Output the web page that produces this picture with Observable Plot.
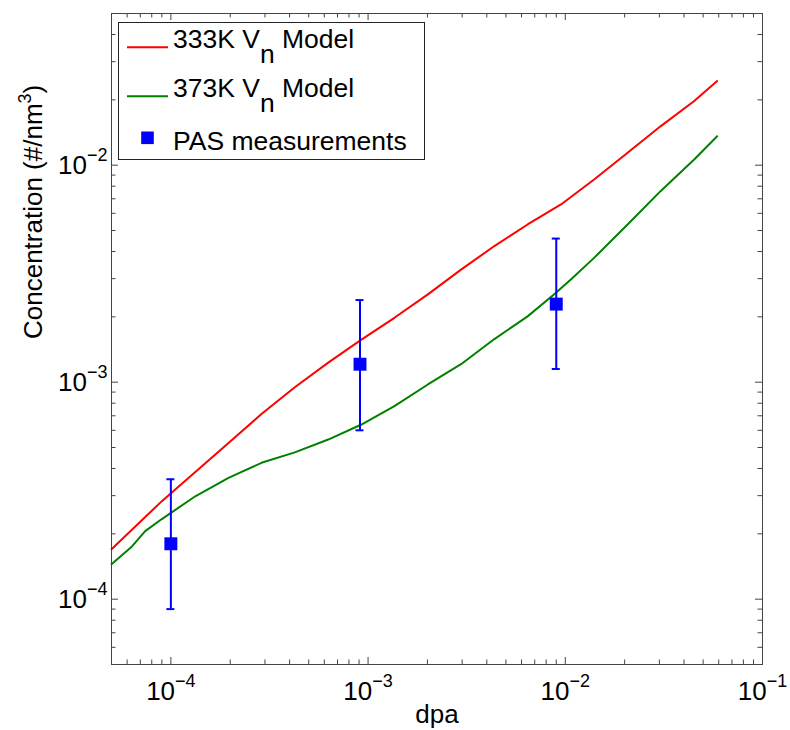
<!DOCTYPE html>
<html>
<head>
<meta charset="utf-8">
<script src="https://cdn.jsdelivr.net/npm/d3@7"></script>
<script src="https://cdn.jsdelivr.net/npm/@observablehq/plot@0.6"></script>
<style>
  body { margin: 0; background: #fff; }
  #chart { position: relative; width: 790px; height: 730px; }
</style>
</head>
<body>
<div id="chart"></div>
<script>
// ---------- data ----------
const model333Dpa  = [5e-5, 9.0e-5, 1.96e-4, 2.88e-4, 4.25e-4, 6.28e-4, 9.25e-4, 1.36e-3, 2.01e-3, 2.96e-3, 4.37e-3, 6.44e-3, 9.51e-3, 1.40e-2, 2.07e-2, 3.04e-2, 4.49e-2, 5.89e-2];
const model333Conc = [1.70e-4, 2.83e-4, 5.25e-4, 7.13e-4, 9.48e-4, 1.23e-3, 1.57e-3, 1.98e-3, 2.54e-3, 3.30e-3, 4.24e-3, 5.33e-3, 6.59e-3, 8.59e-3, 1.14e-2, 1.51e-2, 1.97e-2, 2.44e-2];

const model373Dpa  = [5e-5, 6.35e-5, 7.41e-5, 9.0e-5, 1.33e-4, 1.96e-4, 2.88e-4, 4.25e-4, 6.28e-4, 9.25e-4, 1.36e-3, 2.01e-3, 2.96e-3, 4.37e-3, 6.44e-3, 8.79e-3, 1.067e-2, 1.40e-2, 2.07e-2, 3.04e-2, 4.49e-2, 5.89e-2];
const model373Conc = [1.45e-4, 1.75e-4, 2.06e-4, 2.34e-4, 2.98e-4, 3.62e-4, 4.25e-4, 4.75e-4, 5.44e-4, 6.38e-4, 7.75e-4, 9.76e-4, 1.21e-3, 1.58e-3, 2.01e-3, 2.54e-3, 2.97e-3, 3.74e-3, 5.33e-3, 7.59e-3, 1.06e-2, 1.36e-2];

const pasDpa  = [1e-4, 9.1e-4, 9.0e-3];
const pasConc = [1.8e-4, 1.21e-3, 2.29e-3];
const pasLow  = [9.0e-5, 6.0e-4, 1.15e-3];
const pasHigh = [3.57e-4, 2.39e-3, 4.59e-3];

const xMajorTicks = [1e-4, 1e-3, 1e-2, 1e-1];
const xTickLabels = ["10^{−4}", "10^{−3}", "10^{−2}", "10^{−1}"];
const xMinorTicks = [6e-5, 7e-5, 8e-5, 9e-5,
  2e-4, 3e-4, 4e-4, 5e-4, 6e-4, 7e-4, 8e-4, 9e-4,
  2e-3, 3e-3, 4e-3, 5e-3, 6e-3, 7e-3, 8e-3, 9e-3,
  2e-2, 3e-2, 4e-2, 5e-2, 6e-2, 7e-2, 8e-2, 9e-2];

const yMajorTicks = [1e-4, 1e-3, 1e-2];
const yTickLabels = ["10^{−4}", "10^{−3}", "10^{−2}"];
const yMinorTicks = [6e-5, 7e-5, 8e-5, 9e-5,
  2e-4, 3e-4, 4e-4, 5e-4, 6e-4, 7e-4, 8e-4, 9e-4,
  2e-3, 3e-3, 4e-3, 5e-3, 6e-3, 7e-3, 8e-3, 9e-3,
  2e-2, 3e-2, 4e-2];

const xLabel = "dpa";
const yLabel = "Concentration (#/nm^{3})";
const seriesNames = ["333K V_{n} Model", "373K V_{n} Model", "PAS measurements"];
const seriesColors = ["#ff0000", "#008000", "#0000ff"];

// ---------- tables ----------
const red = model333Dpa.map((d, i) => ({dpa: d, conc: model333Conc[i]}));
const green = model373Dpa.map((d, i) => ({dpa: d, conc: model373Conc[i]}));
const pas = pasDpa.map((d, i) => ({dpa: d, conc: pasConc[i], low: pasLow[i], high: pasHigh[i]}));

// ---------- layout ----------
const W = 790, H = 730, mL = 111, mR = 28, mT = 13, mB = 66;
const innerW = W - mL - mR, innerH = H - mT - mB;
const axisColor = "#444";
const majorLen = 7, minorLen = 4.5;

const chart = Plot.plot({
  width: W, height: H,
  marginLeft: mL, marginRight: mR, marginTop: mT, marginBottom: mB,
  style: {fontFamily: "'Liberation Sans', Arial, Helvetica, sans-serif", background: "#fff", color: "#000", overflow: "visible"},
  x: {type: "log", domain: [5e-5, 1e-1], label: null},
  y: {type: "log", domain: [5e-5, 5e-2], label: null},
  marks: [
    Plot.line(red, {x: "dpa", y: "conc", stroke: seriesColors[0], strokeWidth: 2}),
    Plot.line(green, {x: "dpa", y: "conc", stroke: seriesColors[1], strokeWidth: 2}),
    Plot.ruleX(pas, {x: "dpa", y1: "low", y2: "high", stroke: seriesColors[2], strokeWidth: 2}),
    Plot.ruleY(pas, {y: "low", x1: "dpa", x2: "dpa", insetLeft: -4, insetRight: -4, stroke: seriesColors[2], strokeWidth: 2}),
    Plot.ruleY(pas, {y: "high", x1: "dpa", x2: "dpa", insetLeft: -4, insetRight: -4, stroke: seriesColors[2], strokeWidth: 2}),
    Plot.dot(pas, {x: "dpa", y: "conc", symbol: "square", r: 7.3, fill: seriesColors[2], stroke: null}),
    // inward ticks on all four sides
    Plot.tickX(xMajorTicks, {x: d => d, insetTop: innerH - majorLen, stroke: axisColor}),
    Plot.tickX(xMajorTicks, {x: d => d, insetBottom: innerH - majorLen, stroke: axisColor}),
    Plot.tickX(xMinorTicks, {x: d => d, insetTop: innerH - minorLen, stroke: axisColor}),
    Plot.tickX(xMinorTicks, {x: d => d, insetBottom: innerH - minorLen, stroke: axisColor}),
    Plot.tickY(yMajorTicks, {y: d => d, insetRight: innerW - majorLen, stroke: axisColor}),
    Plot.tickY(yMajorTicks, {y: d => d, insetLeft: innerW - majorLen, stroke: axisColor}),
    Plot.tickY(yMinorTicks, {y: d => d, insetRight: innerW - minorLen, stroke: axisColor}),
    Plot.tickY(yMinorTicks, {y: d => d, insetLeft: innerW - minorLen, stroke: axisColor}),
    Plot.frame({stroke: axisColor}),
    Plot.axisX(xMajorTicks, {tickSize: 0, tickPadding: 17, fontSize: 26, label: null,
      tickFormat: d => xTickLabels[xMajorTicks.indexOf(d)]}),
    Plot.axisY(yMajorTicks, {tickSize: 0, tickPadding: 4, fontSize: 26, label: null,
      tickFormat: d => yTickLabels[yMajorTicks.indexOf(d)]}),
    Plot.text([xLabel], {text: d => d, frameAnchor: "bottom", dy: 58, lineAnchor: "bottom", fontSize: 26, fill: "#000"}),
    Plot.text([yLabel], {text: d => d, frameAnchor: "left", dx: -78, rotate: -90, lineAnchor: "middle", fontSize: 26, fill: "#000"})
  ]
});

document.getElementById("chart").appendChild(chart);
const svg = d3.select(chart.tagName.toLowerCase() === "svg" ? chart : chart.querySelector("svg"));

// superscripts: "base^{exp}rest"
svg.selectAll("text").each(function () {
  const t = this.textContent;
  const m = t.match(/^(.*)\^\{(.*?)\}(.*)$/);
  if (!m) return;
  const sel = d3.select(this);
  const isTick = m[1] === "10";
  const raise = isTick ? 13 : 11;
  const supSize = 18;
  sel.text(m[1]);
  sel.append("tspan").attr("dy", -raise).attr("font-size", supSize).text(m[2]);
  if (m[3]) sel.append("tspan").attr("dy", raise).text(m[3]);
});

// legend (inside plot, upper left)
const lg = svg.append("g").attr("transform", "translate(118.5,22.5)").attr("text-anchor", "start");
lg.append("rect").attr("width", 306).attr("height", 137).attr("fill", "#fff").attr("stroke", "#222").attr("stroke-width", 1);
const rowBase = [25.5, 74, 127.5];
const rowMark = [24.7, 73.7, 115.3];
seriesNames.forEach((name, i) => {
  if (i < 2) {
    lg.append("line").attr("x1", 8.5).attr("x2", 49.5).attr("y1", rowMark[i]).attr("y2", rowMark[i])
      .attr("stroke", seriesColors[i]).attr("stroke-width", 2);
  } else {
    lg.append("rect").attr("x", 29 - 6.3).attr("y", rowMark[i] - 6.3).attr("width", 12.6).attr("height", 12.6)
      .attr("fill", seriesColors[i]);
  }
  const tx = lg.append("text").attr("x", 54.5).attr("y", rowBase[i]).attr("font-size", 26.5)
    .attr("fill", "#000").attr("text-anchor", "start");
  const m = name.match(/^(.*)_\{(.*?)\}(.*)$/);
  if (m) {
    tx.append("tspan").text(m[1]);
    tx.append("tspan").attr("dy", 15).text(m[2]);
    tx.append("tspan").attr("dy", -15).text(m[3]);
  } else {
    tx.text(name);
  }
});
</script>
</body>
</html>
